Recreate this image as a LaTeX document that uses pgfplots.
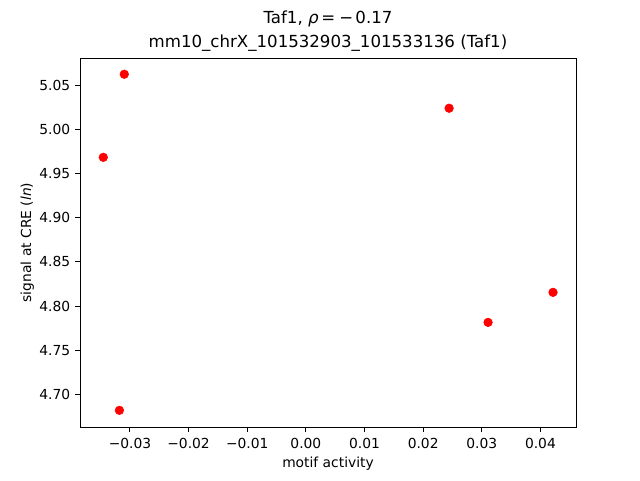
\documentclass[border=0pt]{standalone}
\usepackage{pgfplots}
\pgfplotsset{compat=1.18}
\usepackage{fontspec}
\setmainfont{DejaVu Sans}
\begin{document}
\begin{tikzpicture}[x=1bp,y=1bp]
\useasboundingbox (0,0) rectangle (460.8,345.6);
\begin{axis}[
  at={(57.6bp,38.16bp)}, anchor=south west,
  scale only axis, width=357.12bp, height=265.68bp,
  xmin=-0.03852, xmax=0.04607, ymin=4.663, ymax=5.0809,
  scaled x ticks=false, scaled y ticks=false,
  axis line style={line width=0.7bp},
  tick style={black, line width=0.7bp},
  tick align=outside, major tick length=3.5bp,
  xtick={-0.03,-0.02,-0.01,0,0.01,0.02,0.03,0.04},
  xticklabels={−0.03,−0.02,−0.01,0.00,0.01,0.02,0.03,0.04},
  ytick={4.70,4.75,4.80,4.85,4.90,4.95,5.00,5.05},
  yticklabels={4.70,4.75,4.80,4.85,4.90,4.95,5.00,5.05},
  xtick pos=bottom, ytick pos=left,
  ticklabel style={font=\fontsize{10}{12}\selectfont},
  xticklabel style={yshift=-1bp},
  label style={font=\fontsize{10}{12}\selectfont},
  xlabel={motif activity},
  ylabel={signal at CRE (\textit{ln})},
  xlabel style={yshift=1bp},
  ylabel style={yshift=-3bp},
  title={Taf1, \textit{ρ}\kern2bp=\kern3bp−\kern1.5bp0.17\\mm10\_chrX\_101532903\_101533136 (Taf1)},
  title style={font=\fontsize{12}{17}\selectfont, align=center, yshift=-4.5bp},
]
\addplot[only marks, mark=*, mark size=3.1bp, color=red, mark options={draw=red, fill=red}] coordinates {
(-0.03097,5.0625)
(-0.03455,4.9684)
(0.02443,5.0240)
(0.04215,4.8155)
(0.03107,4.7815)
(-0.03180,4.6819)
};
\end{axis}
\end{tikzpicture}
\end{document}
